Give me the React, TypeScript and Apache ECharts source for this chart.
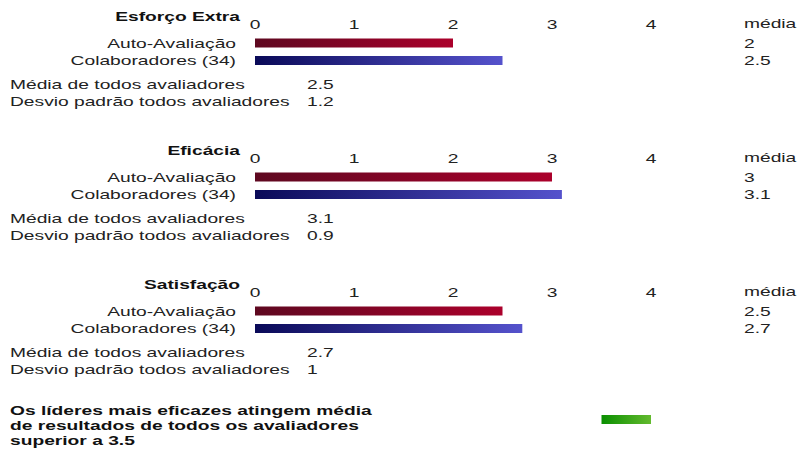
import React, { useEffect, useRef } from "react";
import * as echarts from "echarts";

// Scores per dimension
const dimensions = ["Esforço Extra", "Eficácia", "Satisfação"];
const raterGroups = ["Auto-Avaliação", "Colaboradores (34)"];
const selfScores = [2, 3, 2.5];
const raterScores = [2.5, 3.1, 2.7];
const meanAllRaters = [2.5, 3.1, 2.7];
const stdDevAllRaters = [1.2, 0.9, 1];
const axisTicks = [0, 1, 2, 3, 4];
const threshold = 3.5;
const noteLines = [
  "Os líderes mais eficazes atingem média",
  "de resultados de todos os avaliadores",
  "superior a 3.5",
];

// The chart is laid out on a narrower canvas and stretched horizontally.
const OUT_W = 798;
const IN_W = 540;
const SX = OUT_W / IN_W;
const ix = (x: number) => x / SX;

const FONT = "'Liberation Sans', Arial, Helvetica, sans-serif";
const TEXT = "#222";

const GRID_LEFT = ix(255);
const GRID_W = ix(651) - ix(255);
const SECTION_STEP = 134;

const redGrad = () =>
  new echarts.graphic.LinearGradient(0, 0, 1, 0, [
    { offset: 0, color: "#5e0820" },
    { offset: 1, color: "#ab002b" },
  ]);
const blueGrad = () =>
  new echarts.graphic.LinearGradient(0, 0, 1, 0, [
    { offset: 0, color: "#0a0a58" },
    { offset: 1, color: "#5552cc" },
  ]);
const greenGrad = () =>
  new echarts.graphic.LinearGradient(0, 0, 1, 0, [
    { offset: 0, color: "#0a8f00" },
    { offset: 1, color: "#63ba2e" },
  ]);

const fmt = (v: number) => String(v);

export default function App() {
  const ref = useRef<HTMLDivElement>(null);

  useEffect(() => {
    if (!ref.current) return;
    const chart = echarts.init(ref.current, null, { renderer: "svg" });
    const axMax = axisTicks[axisTicks.length - 1];

    const grid: any[] = [];
    const xAxis: any[] = [];
    const yAxis: any[] = [];
    const series: any[] = [];
    const graphic: any[] = [];

    dimensions.forEach((name, k) => {
      const off = SECTION_STEP * k;
      grid.push({ left: GRID_LEFT, top: 34.25 + off, width: GRID_W, height: 35 });
      xAxis.push({
        gridIndex: k,
        type: "value",
        position: "top",
        min: axisTicks[0],
        max: axMax,
        interval: 1,
        axisLine: { show: false },
        axisTick: { show: false },
        splitLine: { show: false },
        axisLabel: { color: TEXT, fontFamily: FONT, fontSize: 13, margin: 4 },
      });
      yAxis.push({
        gridIndex: k,
        type: "category",
        inverse: true,
        data: raterGroups,
        axisLine: { show: false },
        axisTick: { show: false },
        axisLabel: { color: TEXT, fontFamily: FONT, fontSize: 13, margin: ix(255) - ix(236) },
      });
      yAxis.push({
        gridIndex: k,
        type: "category",
        position: "right",
        inverse: true,
        data: [fmt(selfScores[k]), fmt(raterScores[k])],
        axisLine: { show: false },
        axisTick: { show: false },
        axisLabel: {
          color: TEXT,
          fontFamily: FONT,
          fontSize: 13,
          align: "left",
          margin: ix(744) - (GRID_LEFT + GRID_W),
        },
      });
      series.push({
        type: "bar",
        xAxisIndex: k,
        yAxisIndex: 2 * k,
        barWidth: 9,
        data: [
          { value: selfScores[k], itemStyle: { color: redGrad() } },
          { value: raterScores[k], itemStyle: { color: blueGrad() } },
        ],
      });

      graphic.push(
        {
          type: "text",
          x: ix(240),
          y: 16.5 + off,
          style: {
            text: name,
            fill: "#111",
            font: `bold 13px ${FONT}`,
            align: "right",
            verticalAlign: "middle",
          },
        },
        {
          type: "text",
          x: ix(744),
          y: 23.5 + off,
          style: {
            text: "média",
            fill: TEXT,
            font: `13px ${FONT}`,
            align: "left",
            verticalAlign: "middle",
          },
        },
        {
          type: "text",
          x: ix(10),
          y: 84 + off,
          style: {
            text: "Média de todos avaliadores",
            fill: TEXT,
            font: `13px ${FONT}`,
            verticalAlign: "middle",
          },
        },
        {
          type: "text",
          x: ix(307),
          y: 84 + off,
          style: {
            text: fmt(meanAllRaters[k]),
            fill: TEXT,
            font: `13px ${FONT}`,
            verticalAlign: "middle",
          },
        },
        {
          type: "text",
          x: ix(10),
          y: 101.5 + off,
          style: {
            text: "Desvio padrão todos avaliadores",
            fill: TEXT,
            font: `13px ${FONT}`,
            verticalAlign: "middle",
          },
        },
        {
          type: "text",
          x: ix(307),
          y: 101.5 + off,
          style: {
            text: fmt(stdDevAllRaters[k]),
            fill: TEXT,
            font: `13px ${FONT}`,
            verticalAlign: "middle",
          },
        }
      );
    });

    // Threshold band: from 3.5 up to the top of the scale
    const gi = dimensions.length;
    grid.push({ left: GRID_LEFT, top: 415, width: GRID_W, height: 9 });
    xAxis.push({ gridIndex: gi, type: "value", min: axisTicks[0], max: axMax, show: false });
    yAxis.push({ gridIndex: gi, type: "category", data: [""], show: false });
    series.push(
      {
        type: "bar",
        xAxisIndex: gi,
        yAxisIndex: yAxis.length - 1,
        stack: "band",
        barWidth: 9,
        itemStyle: { color: "transparent" },
        data: [threshold],
      },
      {
        type: "bar",
        xAxisIndex: gi,
        yAxisIndex: yAxis.length - 1,
        stack: "band",
        barWidth: 9,
        itemStyle: { color: greenGrad() },
        data: [axMax - threshold],
      }
    );

    graphic.push({
      type: "text",
      x: ix(10),
      y: 403,
      style: {
        text: noteLines.join("\n"),
        fill: "#111",
        font: `bold 13px ${FONT}`,
        lineHeight: 15,
        verticalAlign: "top",
      },
    });

    chart.setOption({
      animation: false,
      backgroundColor: "#fff",
      grid,
      xAxis,
      yAxis,
      series,
      graphic,
    });
    return () => chart.dispose();
  }, []);

  return (
    <div
      style={{
        position: "fixed",
        left: 0,
        top: 0,
        width: OUT_W,
        height: 450,
        overflow: "hidden",
        background: "#fff",
      }}
    >
      <div
        ref={ref}
        style={{
          width: IN_W,
          height: 450,
          transform: `scaleX(${SX})`,
          transformOrigin: "0 0",
        }}
      />
    </div>
  );
}
